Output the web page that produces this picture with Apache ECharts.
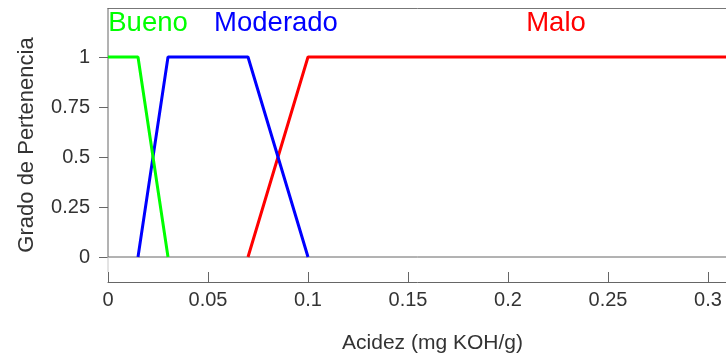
<!DOCTYPE html>
<html>
<head>
<meta charset="utf-8">
<script src="https://cdn.jsdelivr.net/npm/echarts@6/dist/echarts.min.js"></script>
<style>
  html, body { margin: 0; padding: 0; background: #fff; overflow: hidden; }
  #chart { width: 726px; height: 360px; }
</style>
</head>
<body>
<div id="chart"></div>
<script>
// Membership functions for acidity (mg KOH/g)
const buenoX = [0, 0.015, 0.03];
const buenoY = [1, 1, 0];
const moderadoX = [0.015, 0.03, 0.07, 0.1];
const moderadoY = [0, 1, 1, 0];
const maloX = [0.07, 0.1, 0.3245];
const maloY = [0, 1, 1];

const xTicks = [0, 0.05, 0.1, 0.15, 0.2, 0.25, 0.3];
const yTicks = [0, 0.25, 0.5, 0.75, 1];

const FONT = 'Liberation Sans, Arial, sans-serif';
const AXIS_COLOR = '#666';
const LIGHT_AXIS = '#c8c8c8';
const TEXT_COLOR = '#333';
const X_MIN = 0, X_MAX = 0.3245;
const Y_MIN = -0.125, Y_MAX = 1.245;

function pairs(xs, ys) {
  return xs.map((x, i) => [x, ys[i]]);
}

function lineSeries(name, xs, ys, color, z) {
  return {
    name: name,
    type: 'line',
    data: pairs(xs, ys),
    symbol: 'none',
    lineStyle: { color: color, width: 3 },
    itemStyle: { color: color },
    z: z
  };
}

const chart = echarts.init(document.getElementById('chart'), null, { renderer: 'canvas' });

chart.setOption({
  animation: false,
  backgroundColor: '#fff',
  grid: { left: 108, top: 8, bottom: 78, width: 649, containLabel: false, outerBoundsMode: 'none' },
  xAxis: [
    {
      type: 'value',
      position: 'bottom',
      min: X_MIN,
      max: X_MAX,
      name: 'Acidez (mg KOH/g)',
      nameLocation: 'middle',
      nameGap: 51,
      nameTextStyle: { fontSize: 21, color: TEXT_COLOR, fontFamily: FONT },
      axisLine: { show: true, onZero: false, lineStyle: { color: AXIS_COLOR, width: 1 } },
      axisTick: { show: true, inside: true, length: 10, customValues: xTicks, lineStyle: { color: AXIS_COLOR } },
      axisLabel: { show: true, customValues: xTicks, margin: 8, fontSize: 20, color: TEXT_COLOR, fontFamily: FONT },
      splitLine: { show: false }
    },
    {
      type: 'value',
      position: 'top',
      min: X_MIN,
      max: X_MAX,
      axisLine: { show: true, onZero: false, lineStyle: { color: '#777', width: 1 } },
      axisTick: { show: false },
      axisLabel: { show: false },
      splitLine: { show: false }
    }
  ],
  yAxis: {
    type: 'value',
    min: Y_MIN,
    max: Y_MAX,
    name: 'Grado de Pertenencia',
    nameLocation: 'middle',
    nameGap: 70,
    nameTextStyle: { fontSize: 22, color: TEXT_COLOR, fontFamily: FONT },
    axisLine: { show: false, onZero: false },
    axisTick: { show: true, inside: false, length: 9, customValues: yTicks, lineStyle: { color: AXIS_COLOR } },
    axisLabel: { show: true, customValues: yTicks, margin: 18, fontSize: 20, color: TEXT_COLOR, fontFamily: FONT },
    splitLine: { show: false }
  },
  series: [
    lineSeries('Malo', maloX, maloY, '#ff0000', 3),
    lineSeries('Moderado', moderadoX, moderadoY, '#0000ff', 4),
    lineSeries('Bueno', buenoX, buenoY, '#00ff00', 5)
  ]
});

// Frame lines and set names, placed through the chart's own coordinate system
const px = (x, y) => chart.convertToPixel({ xAxisIndex: 0, yAxisIndex: 0 }, [x, y]);
const pTop = px(X_MIN, Y_MAX);
const pZero = px(X_MIN, 0);
const pBottom = px(X_MIN, Y_MIN);
const pRight = px(X_MAX, 0);

function text(label, x, y, color) {
  const p = px(x, y);
  return {
    type: 'text',
    x: p[0],
    y: p[1],
    z: 10,
    style: {
      text: label,
      fill: color,
      fontSize: 27.5,
      fontFamily: FONT,
      textAlign: 'center',
      textVerticalAlign: 'middle'
    }
  };
}

chart.setOption({
  graphic: [
    // zero baseline across the plot
    {
      type: 'line', z: 1, silent: true,
      shape: { x1: pZero[0], y1: pZero[1], x2: pRight[0], y2: pRight[1] },
      style: { stroke: AXIS_COLOR, lineWidth: 1 }
    },
    // left axis: solid above zero, faint below
    {
      type: 'line', z: 1, silent: true,
      shape: { x1: pTop[0], y1: pTop[1], x2: pZero[0], y2: pZero[1] },
      style: { stroke: AXIS_COLOR, lineWidth: 1 }
    },
    {
      type: 'line', z: 1, silent: true,
      shape: { x1: pZero[0], y1: pZero[1], x2: pBottom[0], y2: pBottom[1] - 10 },
      style: { stroke: LIGHT_AXIS, lineWidth: 1 }
    },
    text('Bueno', 0.02, 1.17, '#00ff00'),
    text('Moderado', 0.084, 1.17, '#0000ff'),
    text('Malo', 0.224, 1.17, '#ff0000')
  ]
});
</script>
</body>
</html>
